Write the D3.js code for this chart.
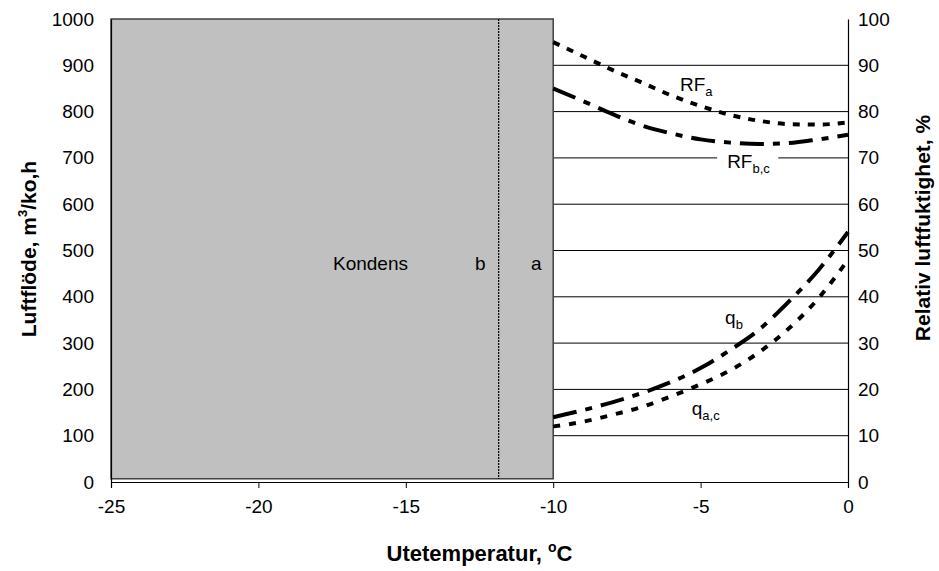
<!DOCTYPE html>
<html>
<head>
<meta charset="utf-8">
<script src="https://cdn.jsdelivr.net/npm/d3@7"></script>
<style>
  body { margin: 0; background: #fff; }
  text { font-family: "Liberation Sans", Arial, sans-serif; }
</style>
</head>
<body>
<div id="chart"></div>
<script>
// temperatures for the curves, degC
let temps = [-10, -9, -8, -7, -6, -5, -4, -3, -2, -1, 0]
// relative humidity, % (right axis)
let rfA = [95, 92, 89, 86.3, 83.5, 81.2, 79.3, 78, 77.3, 77.2, 77.7]
let rfBC = [85, 82.3, 79.5, 77, 75.3, 74, 73.3, 73, 73.2, 74, 75]
// air flow, m3/ko,h (left axis)
let qB = [140, 155, 172, 192, 216, 246, 285, 330, 390, 458, 540]
let qAC = [120, 130, 145, 162, 185, 211, 241, 281, 332, 397, 480]
// condensation zones
let kondensFrom = -25, kondensTo = -10, kondensLow = 7, kondensHigh = 1000
let lineB = -11.85
let xTicks = [-25, -20, -15, -10, -5, 0]
let yTicks = d3.range(0, 1001, 100)
let rTicks = d3.range(0, 101, 10)

let svgWidth = 939, svgHeight = 571
let margin = {top: 19, right: 91, bottom: 89, left: 111}

let svg = d3.select("#chart").append("svg")
  .attr("width", svgWidth)
  .attr("height", svgHeight)

let xScale = d3.scaleLinear().domain([-25, 0]).range([margin.left, svgWidth - margin.right])
let yScale = d3.scaleLinear().domain([0, 1000]).range([svgHeight - margin.bottom, margin.top])
let rScale = d3.scaleLinear().domain([0, 100]).range([svgHeight - margin.bottom, margin.top])

// gridlines (right axis)
svg.append("g").selectAll("line").data(rTicks.filter(d => d > 0 && d < 100)).enter()
  .append("line")
  .attr("x1", xScale(-25)).attr("x2", xScale(0))
  .attr("y1", d => rScale(d)).attr("y2", d => rScale(d))
  .attr("stroke", "#000").attr("stroke-width", 1)

// condensation area
svg.append("rect")
  .attr("x", xScale(kondensFrom))
  .attr("y", yScale(kondensHigh))
  .attr("width", xScale(kondensTo) - xScale(kondensFrom))
  .attr("height", yScale(kondensLow) - yScale(kondensHigh))
  .attr("fill", "#c0c0c0")
  .attr("stroke", "#404040")
  .attr("stroke-width", 1.5)

svg.append("line")
  .attr("x1", xScale(lineB)).attr("x2", xScale(lineB))
  .attr("y1", yScale(kondensHigh)).attr("y2", yScale(kondensLow))
  .attr("stroke", "#000").attr("stroke-width", 1.2)
  .attr("stroke-dasharray", "2,1")

// axes
let fmt = d => String(d)
let xAxis = d3.axisBottom(xScale).tickValues(xTicks).tickFormat(fmt).tickSize(6).tickPadding(12)
let gx = svg.append("g")
  .attr("transform", "translate(0," + (svgHeight - margin.bottom) + ")")
  .call(xAxis)
let yAxis = d3.axisLeft(yScale).tickValues(yTicks).tickFormat(fmt).tickSize(0).tickPadding(17)
let gy = svg.append("g")
  .attr("transform", "translate(" + margin.left + ",0)")
  .call(yAxis)
let rAxis = d3.axisRight(rScale).tickValues(rTicks).tickFormat(fmt).tickSize(0).tickPadding(10)
let gr = svg.append("g")
  .attr("transform", "translate(" + (svgWidth - margin.right) + ",0)")
  .call(rAxis)

for (let g of [gx, gy, gr]) {
  g.selectAll("path").attr("stroke", "#000").attr("stroke-width", 1.2)
  g.selectAll("line").attr("stroke", "#000")
  g.selectAll("text").attr("font-size", 19).attr("fill", "#000")
    .style("font-family", "'Liberation Sans', Arial, sans-serif")
}

// curves
let series = [
  {vals: rfA, scale: rScale, dash: "7,8"},
  {vals: rfBC, scale: rScale, dash: "24,9,7,9"},
  {vals: qB, scale: yScale, dash: "24,9,7,9"},
  {vals: qAC, scale: yScale, dash: "7,9"}
]
for (let s of series) {
  let line = d3.line()
    .x((d, i) => xScale(temps[i]))
    .y(d => s.scale(d))
    .curve(d3.curveMonotoneX)
  svg.append("path")
    .datum(s.vals)
    .attr("d", line)
    .attr("fill", "none")
    .attr("stroke", "#000")
    .attr("stroke-width", 4)
    .attr("stroke-dasharray", s.dash)
}

// labels with subscripts
function label(x, y, main, sub, bg) {
  let t = svg.append("text")
    .attr("x", x).attr("y", y)
    .attr("font-size", 19)
  t.append("tspan").text(main)
  if (sub) {
    t.append("tspan").attr("font-size", 13).attr("dy", 5).text(sub)
  }
  if (bg) {
    let bb = t.node().getBBox()
    svg.insert("rect", () => t.node())
      .attr("x", bb.x - 10).attr("y", bb.y)
      .attr("width", bb.width + 18).attr("height", bb.height)
      .attr("fill", "#fff")
  }
  return t
}
label(xScale(-5.7), rScale(84.4), "RF", "a")
label(xScale(-4.1), rScale(67.8), "RF", "b,c", true)
label(xScale(-4.17), yScale(341), "q", "b")
label(xScale(-5.3), yScale(145), "q", "a,c")
label(xScale(-17.47), yScale(458), "Kondens")
label(xScale(-12.65), yScale(458), "b")
label(xScale(-10.75), yScale(458), "a")

// axis titles
let bt = svg.append("text")
  .attr("x", (xScale(-25) + xScale(0)) / 2)
  .attr("y", 561)
  .attr("text-anchor", "middle")
  .attr("font-size", 22).attr("font-weight", "bold")
bt.append("tspan").text("Utetemperatur, ")
bt.append("tspan").attr("font-size", 14).attr("dy", -9).text("o")
bt.append("tspan").attr("dy", 9).text("C")

let lt = svg.append("text")
  .attr("transform", "translate(36,249) rotate(-90)")
  .attr("text-anchor", "middle")
  .attr("font-size", 21).attr("font-weight", "bold")
lt.append("tspan").text("Luftflöde, m")
lt.append("tspan").attr("font-size", 13).attr("dy", -9).text("3")
lt.append("tspan").attr("dy", 9).text("/ko,h")

svg.append("text")
  .attr("transform", "translate(930,228) rotate(-90)")
  .attr("text-anchor", "middle")
  .attr("font-size", 21).attr("font-weight", "bold")
  .text("Relativ luftfuktighet, %")
</script>
</body>
</html>
